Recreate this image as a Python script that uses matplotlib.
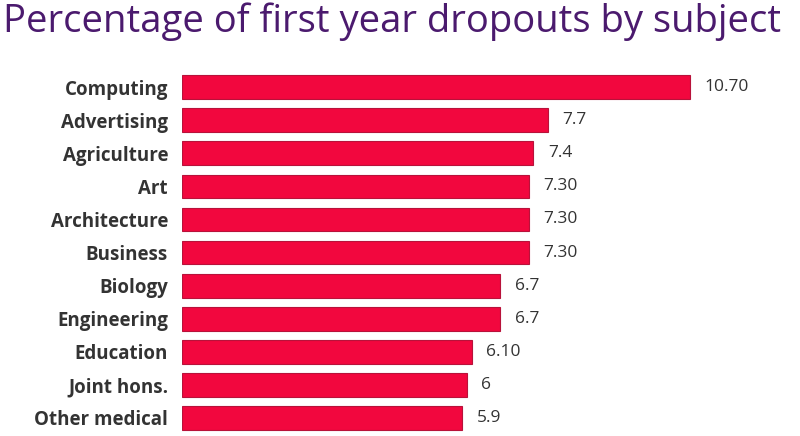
import matplotlib.pyplot as plt

# Dados
disciplinas = ["Computing", "Advertising", "Agriculture", "Art", "Architecture",
               "Business", "Biology", "Engineering", "Education", "Joint hons.",
               "Other medical"]
valores = [10.70, 7.7, 7.4, 7.30, 7.30, 7.30, 6.7, 6.7, 6.10, 6, 5.9]
rotulos = ["10.70", "7.7", "7.4", "7.30", "7.30", "7.30", "6.7", "6.7", "6.10", "6", "5.9"]

plt.rcParams['font.family'] = ['Open Sans', 'DejaVu Sans']

fig = plt.figure(figsize=(8, 4.36), dpi=100)
ax = fig.add_axes([0.2275, 0.0034, 0.99 - 0.2275, 0.838 - 0.0034])

pos = list(range(len(disciplinas)))
ax.barh(pos, valores, height=0.72, color='#f2073e', edgecolor='#b8123a', linewidth=0.8)

for p, v, r in zip(pos, valores, rotulos):
    ax.annotate(r, (v, p), xytext=(10.5, 0), textcoords='offset points',
                va='center', ha='left', fontsize=12.5, color='#333333')

ax.set_xlim(0, 12.85)
ax.set_ylim(len(disciplinas) - 0.5, -0.5)
ax.set_yticks(pos)
ax.set_yticklabels(disciplinas, fontsize=13.5, fontweight='bold', color='#333333')
ax.tick_params(axis='y', length=0, pad=10)
ax.set_xticks([])
for s in ax.spines.values():
    s.set_visible(False)

fig.text(0.004, 1 - 32 / 436, "Percentage of first year dropouts by subject",
         fontsize=27.5, fontweight='medium', color='#4b1a6e', va='baseline', ha='left')

plt.savefig('out.png', dpi=100)
